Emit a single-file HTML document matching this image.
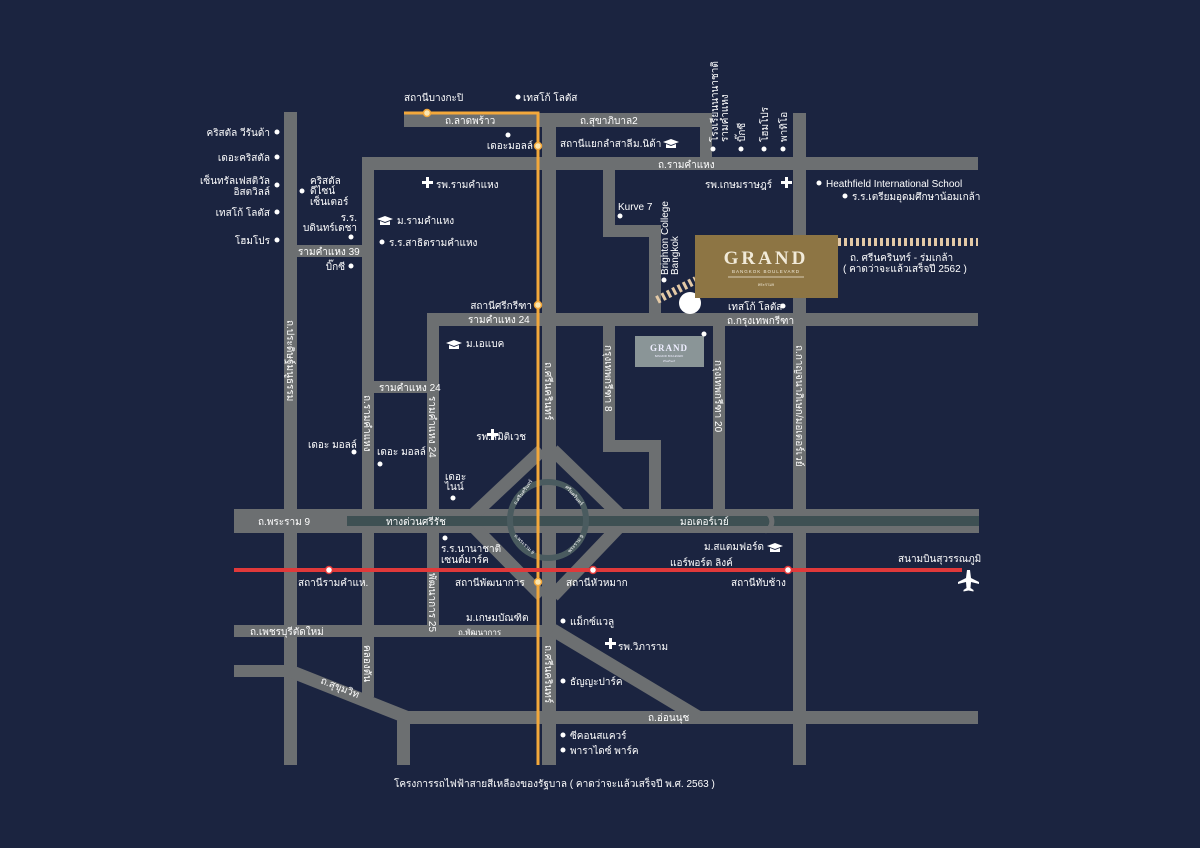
<!DOCTYPE html>
<html><head><meta charset="utf-8"><style>
html,body{margin:0;padding:0;background:#1b2440;}
svg{display:block;font-family:"Liberation Sans","Noto Sans CJK SC",sans-serif;fill:#fff;font-size:10px}
</style></head><body>
<svg width="1200" height="848" viewBox="0 0 1200 848" xmlns="http://www.w3.org/2000/svg" font-family="Liberation Sans, Noto Sans CJK SC, sans-serif" font-size="10" fill="#fff">
<rect width="1200" height="848" fill="#1b2440"/>
<g fill="#6c6f71">
<rect x="404" y="113" width="308" height="14"/>
<rect x="700" y="113" width="12" height="50"/>
<rect x="362" y="157" width="616" height="13"/>
<rect x="284" y="112" width="13" height="653"/>
<rect x="362" y="157" width="12" height="540"/>
<rect x="290" y="245" width="77" height="12"/>
<rect x="542" y="113" width="14" height="652"/>
<rect x="603" y="163" width="12" height="70"/>
<rect x="603" y="225" width="58" height="12"/>
<rect x="649" y="225" width="12" height="100"/>
<rect x="427" y="313" width="551" height="13"/>
<rect x="793" y="113" width="13" height="652"/>
<rect x="427" y="313" width="12" height="320"/>
<rect x="367" y="381" width="64" height="12"/>
<rect x="603" y="320" width="12" height="132"/>
<rect x="603" y="440" width="58" height="12"/>
<rect x="649" y="440" width="12" height="75"/>
<rect x="713" y="320" width="12" height="195"/>
<rect x="234" y="509" width="745" height="24"/>
<rect x="234" y="625" width="312" height="12"/>
<rect x="234" y="665" width="60" height="12"/>
<rect x="400" y="711" width="578" height="13"/>
<rect x="397" y="711" width="13" height="54"/>
</g>
<g stroke="#6c6f71" stroke-width="13" fill="none">
<line x1="290" y1="671" x2="406" y2="717"/>
<line x1="553" y1="630" x2="698" y2="717"/>
<line x1="542" y1="450" x2="473" y2="515"/>
<line x1="553" y1="450" x2="620" y2="515"/>
<line x1="475" y1="528" x2="542" y2="596"/>
<line x1="618" y1="528" x2="553" y2="596"/>
</g>
<rect x="347" y="516" width="632" height="10" fill="#3e5053"/>
<circle cx="548" cy="520" r="38" fill="none" stroke="#4a5b5f" stroke-width="6"/>
<path d="M765 512 a10 10 0 0 1 0 19" stroke="#6c6f71" stroke-width="5" fill="none"/>
<g font-size="5">
<text transform="translate(516,505) rotate(-55)">ถ.ศรีนครินทร์</text>
<text transform="translate(565,487) rotate(50)">ศรีนครินทร์</text>
<text transform="translate(514,536) rotate(45)">ถ.พระราม 9</text>
<text transform="translate(570,553) rotate(-50)">พระราม 9</text>
</g>
<path d="M404 113 H538 V765" stroke="#f3a83b" stroke-width="3" fill="none"/>
<line x1="234" y1="570" x2="962" y2="570" stroke="#e0393a" stroke-width="4"/>
<g fill="#fff" stroke="#e0393a" stroke-width="1.5">
<circle cx="329" cy="570" r="3.5"/><circle cx="593" cy="570" r="3.5"/><circle cx="788" cy="570" r="3.5"/>
</g>
<g fill="#fbe6b0" stroke="#f3a83b" stroke-width="1.5">
<circle cx="427" cy="113" r="3.5"/><circle cx="538" cy="146" r="3.5"/><circle cx="538" cy="305" r="3.5"/><circle cx="538" cy="582" r="3.5"/>
</g>
<line x1="838" y1="242" x2="978" y2="242" stroke="#e3c9a6" stroke-width="8" stroke-dasharray="3 3"/>
<line x1="657" y1="300" x2="696" y2="280" stroke="#e3c9a6" stroke-width="8" stroke-dasharray="3 3"/>
<circle cx="690" cy="303" r="11" fill="#fff"/>
<rect x="695" y="235" width="143" height="63" fill="#8d7544"/>
<text x="766" y="264" text-anchor="middle" font-family="Liberation Serif, serif" font-size="19" font-weight="bold" letter-spacing="3" fill="#f1ead8">GRAND</text>
<text x="766" y="273" text-anchor="middle" font-size="4.5" letter-spacing="1" fill="#f1ead8">BANGKOK BOULEVARD</text>
<line x1="728" y1="277" x2="804" y2="277" stroke="#f1ead8" stroke-width="0.8"/>
<text x="766" y="286" text-anchor="middle" font-size="4" fill="#f1ead8">พระราม9</text>
<rect x="635" y="336" width="69" height="31" fill="#8a9597"/>
<text x="669" y="351" text-anchor="middle" font-family="Liberation Serif, serif" font-size="9" font-weight="bold" letter-spacing="1" fill="#eef">GRAND</text>
<text x="669" y="357" text-anchor="middle" font-size="2.5" fill="#eef">BANGKOK BOULEVARD</text>
<text x="669" y="362" text-anchor="middle" font-size="2.5" fill="#eef">ศรีนครินทร์</text>
<g fill="#fff">
<circle cx="277" cy="132" r="2.5"/><circle cx="277" cy="157" r="2.5"/><circle cx="277" cy="185" r="2.5"/><circle cx="277" cy="212" r="2.5"/><circle cx="277" cy="240" r="2.5"/>
<circle cx="302" cy="191" r="2.5"/><circle cx="351" cy="237" r="2.5"/><circle cx="351" cy="266" r="2.5"/>
<circle cx="382" cy="242" r="2.5"/><circle cx="508" cy="135" r="2.5"/><circle cx="518" cy="97" r="2.5"/>
<circle cx="713" cy="149" r="2.5"/><circle cx="741" cy="149" r="2.5"/><circle cx="764" cy="149" r="2.5"/><circle cx="783" cy="149" r="2.5"/>
<circle cx="620" cy="216" r="2.5"/><circle cx="664" cy="280" r="2.5"/><circle cx="783" cy="306" r="2.5"/>
<circle cx="819" cy="183" r="2.5"/><circle cx="845" cy="196" r="2.5"/><circle cx="704" cy="334" r="2.5"/>
<circle cx="354" cy="452" r="2.5"/><circle cx="380" cy="464" r="2.5"/><circle cx="453" cy="498" r="2.5"/><circle cx="445" cy="538" r="2.5"/>
<circle cx="563" cy="621" r="2.5"/><circle cx="563" cy="681" r="2.5"/><circle cx="563" cy="735" r="2.5"/><circle cx="563" cy="750" r="2.5"/>
</g>
<g fill="#fff">
<path d="M423 180h4v-4h3v4h4v3h-4v4h-3v-4h-4z" transform="translate(-1,1)"/>
<path d="M423 180h4v-4h3v4h4v3h-4v4h-3v-4h-4z" transform="translate(358,1)"/>
<path d="M423 180h4v-4h3v4h4v3h-4v4h-3v-4h-4z" transform="translate(64,253)"/>
<path d="M423 180h4v-4h3v4h4v3h-4v4h-3v-4h-4z" transform="translate(182,462)"/>
</g>
<g fill="#fff">
<path d="M377 219 l8 -3 8 3 -8 3z M380 221 v4 h10 v-4 l-5 2z"/>
<path d="M446 343 l8 -3 8 3 -8 3z M449 345 v4 h10 v-4 l-5 2z"/>
<path d="M663 142 l8 -3 8 3 -8 3z M666 144 v4 h10 v-4 l-5 2z"/>
<path d="M767 546 l8 -3 8 3 -8 3z M770 548 v4 h10 v-4 l-5 2z"/>
</g>
<path d="M968 570 l2 0 1 8 8 4 0 2 -8 -2 -0.5 6 3 2 0 1.5 -5 -1 -5 1 0 -1.5 3 -2 -0.5 -6 -8 2 0 -2 8 -4 1 -8z" fill="#fff"/>
<text x="270" y="136" text-anchor="end">คริสตัล วีรันด้า</text>
<text x="270" y="161" text-anchor="end">เดอะคริสตัล</text>
<text x="270" y="184" text-anchor="end">เซ็นทรัลเฟสติวัล</text>
<text x="270" y="195" text-anchor="end">อิสตวิลล์</text>
<text x="270" y="216" text-anchor="end">เทสโก้ โลตัส</text>
<text x="270" y="244" text-anchor="end">โฮมโปร</text>
<text x="310" y="184">คริสตัล</text><text x="310" y="194">ดีไซน์</text><text x="310" y="205">เซ็นเตอร์</text>
<text x="357" y="221" text-anchor="end">ร.ร.</text><text x="357" y="231" text-anchor="end">บดินทร์เดชา</text>
<text x="298" y="255">รามคำแหง 39</text>
<text x="345" y="270" text-anchor="end">บิ๊กซี</text>
<text x="404" y="101">สถานีบางกะปิ</text>
<text x="523" y="101">เทสโก้ โลตัส</text>
<text x="445" y="124">ถ.ลาดพร้าว</text>
<text x="580" y="124">ถ.สุขาภิบาล2</text>
<text x="533" y="149" text-anchor="end">เดอะมอลล์</text>
<text x="560" y="147">สถานีแยกลำสาลี</text>
<text x="633" y="147">ม.นิด้า</text>
<text x="658" y="168">ถ.รามคำแหง</text>
<text x="436" y="188">รพ.รามคำแหง</text>
<text x="397" y="224">ม.รามคำแหง</text>
<text x="389" y="246">ร.ร.สาธิตรามคำแหง</text>
<text x="618" y="210">Kurve 7</text>
<text x="705" y="188">รพ.เกษมราษฎร์</text>
<text x="826" y="187">Heathfield International School</text>
<text x="852" y="200">ร.ร.เตรียมอุดมศึกษาน้อมเกล้า</text>
<text x="850" y="261">ถ. ศรีนครินทร์ - ร่มเกล้า</text>
<text x="843" y="272">( คาดว่าจะแล้วเสร็จปี 2562 )</text>
<text x="728" y="310">เทสโก้ โลตัส</text>
<text x="727" y="324">ถ.กรุงเทพกรีฑา</text>
<text x="532" y="309" text-anchor="end">สถานีศรีกรีฑา</text>
<text x="468" y="323">รามคำแหง 24</text>
<text x="466" y="347">ม.เอแบค</text>
<text x="379" y="391">รามคำแหง 24</text>
<text x="526" y="440" text-anchor="end">รพ.สมิติเวช</text>
<text x="308" y="448">เดอะ มอลล์</text>
<text x="377" y="455">เดอะ มอลล์</text>
<text x="445" y="480">เดอะ</text><text x="445" y="490">ไนน์</text>
<text x="258" y="525">ถ.พระราม 9</text>
<text x="386" y="525">ทางด่วนศรีรัช</text>
<text x="680" y="525">มอเตอร์เวย์</text>
<text x="441" y="552">ร.ร.นานาชาติ</text><text x="441" y="563">เซนต์มาร์ค</text>
<text x="704" y="550">ม.สแตมฟอร์ด</text>
<text x="670" y="566">แอร์พอร์ต ลิงค์</text>
<text x="898" y="562">สนามบินสุวรรณภูมิ</text>
<text x="298" y="586">สถานีรามคำแห.</text>
<text x="455" y="586">สถานีพัฒนาการ</text>
<text x="566" y="586">สถานีหัวหมาก</text>
<text x="731" y="586">สถานีทับช้าง</text>
<text x="466" y="621">ม.เกษมบัณฑิต</text>
<text x="570" y="625">แม็กซ์แวลู</text>
<text x="458" y="635" font-size="8">ถ.พัฒนาการ</text>
<text x="250" y="635">ถ.เพชรบุรีตัดใหม่</text>
<text x="618" y="650">รพ.วิภาราม</text>
<text x="570" y="685">ธัญญะปาร์ค</text>
<text x="648" y="721">ถ.อ่อนนุช</text>
<text x="570" y="739">ซีคอนสแควร์</text>
<text x="570" y="754">พาราไดซ์ พาร์ค</text>
<text transform="translate(320,683) rotate(22)">ถ.สุขุมวิท</text>
<text x="394" y="787">โครงการรถไฟฟ้าสายสีเหลืองของรัฐบาล ( คาดว่าจะแล้วเสร็จปี พ.ศ. 2563 )</text>
<g>
<text transform="translate(287,320) rotate(90)">ถ.ประดิษฐ์มนูธรรม</text>
<text transform="translate(364,395) rotate(90)">ถ.รามคำแหง</text>
<text transform="translate(429,396) rotate(90)">รามคำแหง 24</text>
<text transform="translate(545,362) rotate(90)">ถ.ศรีนครินทร์</text>
<text transform="translate(545,645) rotate(90)">ถ.ศรีนครินทร์</text>
<text transform="translate(605,345) rotate(90)">กรุงเทพกรีฑา 8</text>
<text transform="translate(715,360) rotate(90)">กรุงเทพกรีฑา 20</text>
<text transform="translate(796,345) rotate(90)">ถ.กาญจนาภิเษก/มอเตอร์เวย์</text>
<text transform="translate(364,645) rotate(90)">คลองตัน</text>
<text transform="translate(429,573) rotate(90)">พัฒนาการ 25</text>
</g>
<g>
<text transform="translate(718,142) rotate(-90)">โรงเรียนนานาชาติ</text>
<text transform="translate(728,142) rotate(-90)">รามคำแหง</text>
<text transform="translate(745,142) rotate(-90)">บิ๊กซี</text>
<text transform="translate(768,142) rotate(-90)">โฮมโปร</text>
<text transform="translate(787,142) rotate(-90)">พาทิโอ</text>
<text transform="translate(668,275) rotate(-90)">Brighton College</text>
<text transform="translate(678,275) rotate(-90)">Bangkok</text>
</g>
</svg>
</body></html>
